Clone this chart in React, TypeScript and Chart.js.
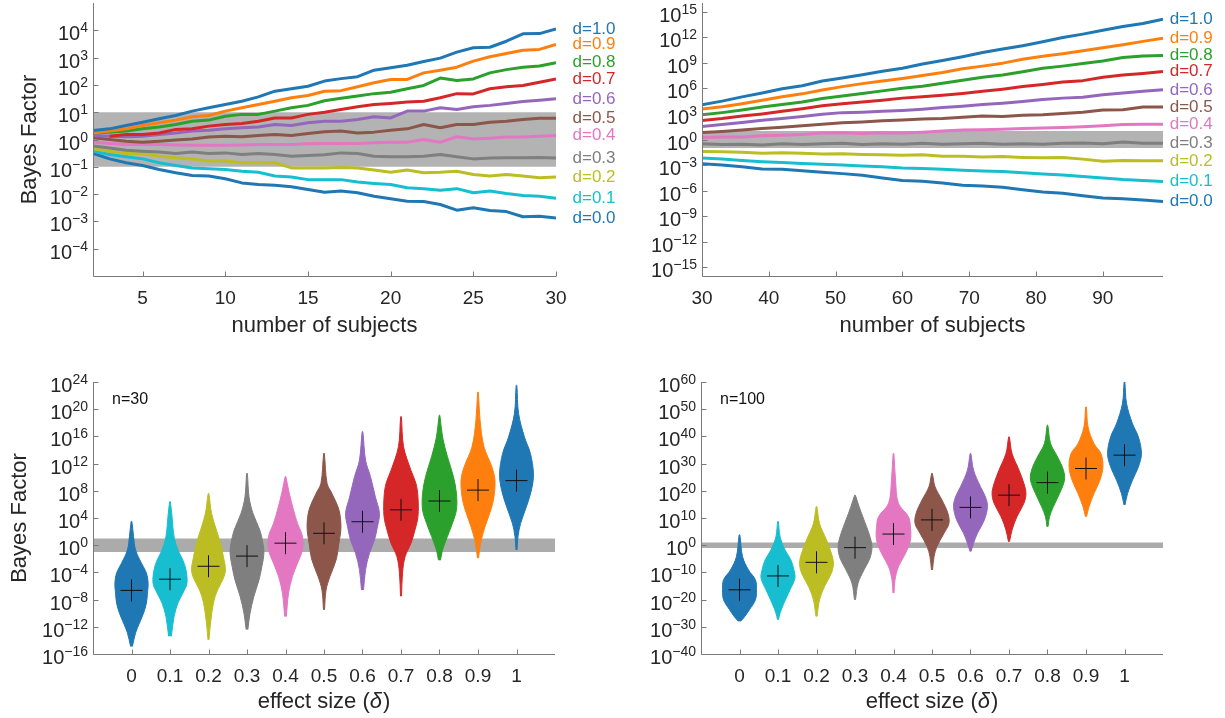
import React, { useEffect, useRef } from "react";
import { Chart, registerables } from "chart.js";

Chart.register(...registerables);

// ---------------- shared data ----------------
const FONT = '"Liberation Sans", Arial, Helvetica, sans-serif';
const TEXT = "#262626";
const AXIS = "#7a7a7a";

const seriesNames = ["d=0.0", "d=0.1", "d=0.2", "d=0.3", "d=0.4", "d=0.5", "d=0.6", "d=0.7", "d=0.8", "d=0.9", "d=1.0"];
const seriesColors = ["#1f77b4", "#17becf", "#bcbd22", "#7f7f7f", "#e377c2", "#8c564b", "#9467bd", "#d62728", "#2ca02c", "#ff7f0e", "#1f77b4"];
const effectSizes = [0, 0.1, 0.2, 0.3, 0.4, 0.5, 0.6, 0.7, 0.8, 0.9, 1];
const effectTickLabels = ["0", "0.1", "0.2", "0.3", "0.4", "0.5", "0.6", "0.7", "0.8", "0.9", "1"];
const bandLow = 0.1;
const bandHigh = 10;

// ---------------- top-left: n = 2..30 (log10 Bayes factor) ----------------
const nSmall = [2, 3, 4, 5, 6, 7, 8, 9, 10, 11, 12, 13, 14, 15, 16, 17, 18, 19, 20, 21, 22, 23, 24, 25, 26, 27, 28, 29, 30];
const small_d00 = [-0.51, -0.71, -0.85, -0.95, -1.1, -1.22, -1.32, -1.34, -1.44, -1.59, -1.65, -1.68, -1.73, -1.83, -1.93, -1.89, -1.95, -2.08, -2.17, -2.26, -2.27, -2.38, -2.59, -2.5, -2.6, -2.64, -2.83, -2.81, -2.88];
const small_d01 = [-0.43, -0.55, -0.63, -0.71, -0.85, -0.95, -1.04, -1.07, -1.1, -1.16, -1.2, -1.34, -1.37, -1.47, -1.47, -1.47, -1.56, -1.61, -1.65, -1.77, -1.8, -1.86, -1.8, -1.95, -1.89, -1.98, -2.05, -2.08, -2.15];
const small_d02 = [-0.34, -0.43, -0.51, -0.51, -0.61, -0.67, -0.71, -0.79, -0.79, -0.85, -0.85, -0.85, -1.04, -1.04, -1.04, -1.03, -1.04, -1.12, -1.2, -1.12, -1.22, -1.2, -1.16, -1.28, -1.34, -1.28, -1.34, -1.4, -1.37];
const small_d03 = [-0.24, -0.31, -0.39, -0.43, -0.46, -0.51, -0.46, -0.51, -0.49, -0.55, -0.51, -0.55, -0.61, -0.59, -0.56, -0.49, -0.51, -0.61, -0.63, -0.63, -0.61, -0.55, -0.63, -0.71, -0.68, -0.67, -0.67, -0.66, -0.68];
const small_d04 = [-0.1, -0.15, -0.18, -0.18, -0.18, -0.2, -0.21, -0.21, -0.21, -0.2, -0.18, -0.18, -0.18, -0.16, -0.15, -0.15, -0.15, -0.12, -0.1, -0.1, 0.0, -0.1, 0.1, 0.02, 0.05, 0.09, 0.09, 0.12, 0.15];
const small_d05 = [0.06, 0.0, -0.06, -0.1, -0.06, -0.02, 0.02, 0.09, 0.12, 0.1, 0.15, 0.18, 0.15, 0.22, 0.28, 0.31, 0.24, 0.27, 0.34, 0.39, 0.55, 0.43, 0.55, 0.55, 0.63, 0.67, 0.73, 0.78, 0.78];
const small_d06 = [0.15, 0.12, 0.1, 0.12, 0.18, 0.24, 0.31, 0.34, 0.39, 0.43, 0.46, 0.55, 0.51, 0.61, 0.67, 0.67, 0.73, 0.83, 0.79, 1.04, 1.04, 1.16, 1.1, 1.2, 1.25, 1.32, 1.39, 1.44, 1.49];
const small_d07 = [null, 0.12, 0.18, 0.18, 0.24, 0.37, 0.39, 0.49, 0.55, 0.59, 0.67, 0.79, 0.79, 0.92, 1.0, 1.1, 1.2, 1.28, 1.32, 1.37, 1.4, 1.53, 1.68, 1.67, 1.86, 1.93, 1.98, 2.1, 2.22];
const small_d08 = [0.24, 0.27, 0.31, 0.39, 0.46, 0.55, 0.67, 0.71, 0.85, 0.92, 0.92, 1.04, 1.16, 1.25, 1.42, 1.51, 1.59, 1.68, 1.73, 1.86, 1.98, 2.25, 2.16, 2.22, 2.44, 2.56, 2.65, 2.69, 2.81];
const small_d09 = [0.24, 0.31, 0.39, 0.51, 0.61, 0.71, 0.83, 0.88, 1.04, 1.16, 1.28, 1.4, 1.53, 1.61, 1.77, 1.79, 1.93, 2.08, 2.2, 2.2, 2.44, 2.54, 2.65, 2.87, 3.03, 3.15, 3.27, 3.3, 3.48];
const small_d10 = [0.33, 0.39, 0.51, 0.63, 0.76, 0.88, 1.04, 1.16, 1.28, 1.4, 1.56, 1.77, 1.86, 1.95, 2.14, 2.23, 2.3, 2.54, 2.63, 2.72, 2.86, 2.98, 3.2, 3.36, 3.38, 3.6, 3.87, 3.88, 4.05];
const smallSeries = [small_d00, small_d01, small_d02, small_d03, small_d04, small_d05, small_d06, small_d07, small_d08, small_d09, small_d10];
const tlYExps = [-4, -3, -2, -1, 0, 1, 2, 3, 4];
const tlXTicks = [5, 10, 15, 20, 25, 30];
const tlXTickLabels = ["5", "10", "15", "20", "25", "30"];

// ---------------- top-right: n = 30..99 (log10 Bayes factor) ----------------
const nLarge = [30, 33, 36, 39, 42, 45, 48, 51, 54, 57, 60, 63, 66, 69, 72, 75, 78, 81, 84, 87, 90, 93, 96, 99];
const large_d00 = [-2.85, -3.0, -3.2, -3.45, -3.5, -3.65, -3.85, -4.0, -4.2, -4.5, -4.8, -4.9, -5.1, -5.35, -5.45, -5.6, -5.9, -6.15, -6.3, -6.6, -6.85, -6.95, -7.1, -7.27];
const large_d01 = [-2.18, -2.3, -2.45, -2.6, -2.7, -2.8, -2.9, -3.0, -3.1, -3.2, -3.35, -3.4, -3.5, -3.6, -3.7, -3.75, -3.9, -4.05, -4.15, -4.35, -4.5, -4.7, -4.8, -4.92];
const large_d02 = [-1.4, -1.45, -1.5, -1.6, -1.55, -1.6, -1.7, -1.68, -1.75, -1.8, -1.85, -1.8, -1.95, -1.95, -2.05, -2.0, -2.1, -2.15, -2.1, -2.3, -2.55, -2.45, -2.5, -2.5];
const large_d03 = [-0.5, -0.6, -0.55, -0.65, -0.5, -0.6, -0.5, -0.45, -0.6, -0.5, -0.55, -0.45, -0.55, -0.5, -0.45, -0.55, -0.5, -0.55, -0.45, -0.4, -0.5, -0.3, -0.45, -0.45];
const large_d04 = [0.23, 0.3, 0.3, 0.45, 0.5, 0.6, 0.75, 0.8, 0.7, 0.8, 0.75, 0.85, 1.0, 1.1, 1.15, 1.2, 1.3, 1.35, 1.4, 1.5, 1.6, 1.75, 1.8, 1.8];
const large_d05 = [0.82, 0.95, 1.1, 1.3, 1.45, 1.6, 1.8, 1.95, 2.05, 2.2, 2.3, 2.4, 2.45, 2.6, 2.75, 2.7, 2.85, 2.9, 3.05, 3.2, 3.45, 3.5, 3.8, 3.8];
const large_d06 = [1.52, 1.75, 2.0, 2.25, 2.45, 2.7, 2.95, 3.15, 3.2, 3.3, 3.4, 3.55, 3.75, 3.9, 4.1, 4.25, 4.45, 4.7, 4.85, 4.95, 5.25, 5.45, 5.65, 5.82];
const large_d07 = [2.23, 2.45, 2.75, 3.0, 3.3, 3.6, 3.95, 4.2, 4.4, 4.6, 4.85, 5.0, 5.2, 5.4, 5.65, 5.9, 6.2, 6.45, 6.75, 6.9, 7.3, 7.55, 7.75, 7.97];
const large_d08 = [2.9, 3.15, 3.45, 3.8, 4.1, 4.4, 4.8, 5.1, 5.4, 5.7, 6.0, 6.25, 6.6, 6.95, 7.3, 7.55, 7.95, 8.35, 8.6, 8.9, 9.2, 9.6, 9.8, 9.84];
const large_d09 = [3.56, 3.85, 4.2, 4.6, 5.0, 5.35, 5.8, 6.2, 6.55, 6.85, 7.15, 7.5, 7.85, 8.3, 8.6, 8.95, 9.4, 9.75, 10.05, 10.4, 10.75, 11.1, 11.5, 11.88];
const large_d10 = [4.07, 4.5, 5.0, 5.45, 5.95, 6.3, 6.85, 7.2, 7.6, 8.0, 8.35, 8.85, 9.25, 9.7, 10.2, 10.6, 11.0, 11.45, 11.95, 12.35, 12.8, 13.25, 13.6, 14.1];
const largeSeries = [large_d00, large_d01, large_d02, large_d03, large_d04, large_d05, large_d06, large_d07, large_d08, large_d09, large_d10];
const trYExps = [-15, -12, -9, -6, -3, 0, 3, 6, 9, 12, 15];
const trXTicks = [30, 40, 50, 60, 70, 80, 90];
const trXTickLabels = ["30", "40", "50", "60", "70", "80", "90"];

// ---------------- bottom-left: violins, n = 30 (log10 levels, relative half-widths) ----------------
const violinLevels30 = [
  [-14.9, -12.9, -11.45, -10, -8.5, -7.05, -5.6, -4.1, -2.65, -0.7, 1.3, 3.5],
  [-13.4, -10.5, -8.5, -7.05, -5.6, -3.6, -2.2, -0.7, 1.25, 4.2, 6.4],
  [-13.9, -11.45, -8.5, -6.6, -4.85, -3.6, -1.7, 0.3, 2.2, 4.7, 7.6],
  [-12.4, -10, -7.5, -5.1, -3.1, -1.2, 0.3, 2.2, 4.7, 7.1, 10.55],
  [-10.5, -7.05, -4.6, -2.65, -0.7, 1.3, 3.2, 5.2, 8.1, 10.1],
  [-9.5, -6.6, -4.6, -2.2, 0.3, 2.7, 5.2, 7.6, 9.1, 13.5],
  [-6.6, -3.6, -1.2, 0.8, 2.7, 4.7, 7.1, 10.1, 12.5, 16.7],
  [-7.5, -4.1, -1.7, 0.3, 2.2, 4.2, 7.1, 9.1, 11.0, 14.5, 18.9],
  [-2.2, -0.7, 1.3, 3.2, 5.2, 7.6, 10.1, 13.0, 15.9, 19.1],
  [-1.9, 0.3, 2.7, 5.2, 7.1, 9.6, 11.5, 14.5, 18.4, 22.5],
  [-0.7, 1.3, 3.2, 5.7, 8.1, 10.5, 13.5, 15.9, 19.4, 23.5],
];
const violinWidths30 = [
  [0.05, 0.24, 0.47, 0.71, 0.88, 0.94, 0.98, 0.88, 0.59, 0.24, 0.12, 0.02],
  [0.08, 0.24, 0.47, 0.76, 1.0, 0.94, 0.76, 0.47, 0.24, 0.12, 0.02],
  [0.03, 0.12, 0.29, 0.53, 0.88, 1.0, 0.88, 0.71, 0.47, 0.18, 0.02],
  [0.05, 0.18, 0.41, 0.71, 0.88, 1.0, 0.94, 0.76, 0.35, 0.12, 0.02],
  [0.05, 0.18, 0.41, 0.71, 1.0, 1.0, 0.71, 0.47, 0.18, 0.02],
  [0.03, 0.12, 0.35, 0.71, 0.88, 1.0, 0.88, 0.47, 0.18, 0.02],
  [0.06, 0.18, 0.41, 0.71, 0.88, 1.0, 0.76, 0.47, 0.18, 0.02],
  [0.03, 0.09, 0.24, 0.59, 0.82, 1.0, 1.0, 0.88, 0.59, 0.15, 0.02],
  [0.06, 0.18, 0.47, 0.76, 1.0, 1.0, 0.82, 0.47, 0.18, 0.02],
  [0.03, 0.15, 0.41, 0.76, 0.94, 1.0, 0.82, 0.35, 0.12, 0.02],
  [0.03, 0.09, 0.24, 0.59, 0.88, 1.0, 0.82, 0.47, 0.12, 0.02],
];
const median30 = [-6.65, -5.0, -3.1, -1.6, 0.3, 1.75, 3.45, 5.2, 6.5, 8.1, 9.5];
const blYExps = [-16, -12, -8, -4, 0, 4, 8, 12, 16, 20, 24];

// ---------------- bottom-right: violins, n = 100 ----------------
const violinLevels100 = [
  [-28, -26.8, -23.7, -20.1, -16.4, -12.7, -9.1, -4.2, 3.8],
  [-27.4, -25, -21.3, -16.4, -12.1, -9.1, -5.4, -1.7, 3.2, 8.7],
  [-26.2, -20.1, -15.2, -10.3, -6.6, -3.0, 1.9, 8.0, 14.2],
  [-20.1, -14, -9.1, -4.8, -0.5, 4.4, 9.3, 14.2, 18.4],
  [-17.6, -12.7, -7.9, -3.0, 1.9, 6.8, 10.5, 15.4, 23.9, 33.7],
  [-9.1, -4.2, -0.5, 4.4, 8.0, 11.7, 16.6, 21.5, 26.4],
  [-2.3, 0.7, 4.4, 9.3, 14.2, 17.8, 21.5, 27.6, 33.7],
  [1.3, 5.6, 10.5, 15.4, 19.0, 22.7, 27.6, 33.7, 39.8],
  [6.8, 10.5, 14.2, 19.0, 23.9, 27.6, 32.5, 37.4, 44.1],
  [10.5, 14.2, 19.0, 23.9, 28.8, 33.7, 37.4, 43.5, 50.8],
  [14.8, 19.0, 23.9, 28.8, 33.7, 39.8, 44.7, 52.1, 60],
];
const violinWidths100 = [
  [0.06, 0.24, 0.59, 0.94, 1.0, 0.94, 0.53, 0.18, 0.02],
  [0.03, 0.12, 0.35, 0.71, 1.0, 0.94, 0.76, 0.41, 0.12, 0.02],
  [0.03, 0.18, 0.47, 0.88, 1.0, 0.88, 0.59, 0.18, 0.02],
  [0.03, 0.18, 0.53, 0.88, 1.0, 0.82, 0.53, 0.24, 0.02],
  [0.03, 0.09, 0.29, 0.71, 1.0, 1.0, 0.88, 0.29, 0.12, 0.02],
  [0.03, 0.12, 0.29, 0.71, 1.0, 0.94, 0.59, 0.18, 0.02],
  [0.03, 0.18, 0.41, 0.82, 1.0, 0.88, 0.59, 0.18, 0.02],
  [0.03, 0.18, 0.47, 0.88, 1.0, 0.88, 0.59, 0.18, 0.02],
  [0.03, 0.12, 0.35, 0.71, 1.0, 0.94, 0.59, 0.18, 0.02],
  [0.03, 0.18, 0.47, 0.82, 1.0, 0.88, 0.47, 0.12, 0.02],
  [0.03, 0.18, 0.47, 0.82, 1.0, 0.82, 0.47, 0.12, 0.02],
];
const median100 = [-16.4, -11.3, -6.3, -0.9, 4.1, 9.3, 13.9, 18.4, 23.0, 28.2, 33.1];
const brYExps = [-40, -30, -20, -10, 0, 10, 20, 30, 40, 50, 60];

// ---------------- drawing helpers ----------------
const VIOLIN_HALF = 0.044; // max half-width in effect-size units

function drawPow(ctx: CanvasRenderingContext2D, exp: number, right: number, y: number) {
  const sup = exp < 0 ? "\u2212" + Math.abs(exp) : String(exp);
  ctx.textAlign = "left";
  ctx.textBaseline = "alphabetic";
  ctx.font = `14px ${FONT}`;
  const sw = ctx.measureText(sup).width;
  ctx.font = `20px ${FONT}`;
  const bw = ctx.measureText("10").width;
  const x0 = right - sw - bw;
  ctx.fillText("10", x0, y + 10);
  ctx.font = `14px ${FONT}`;
  ctx.fillText(sup, x0 + bw, y + 2);
}

type AxOpts = {
  yExps: number[];
  xTicks: number[];
  xTickLabels: string[];
  xTitle: "subjects" | "effect";
  titleOffset: number;
  yTitleX?: number;
  endLabels?: { xs: number[]; series: (number | null)[][] };
  note?: string;
};

function axesPlugin(p: AxOpts) {
  return {
    id: "matlabAxes",
    afterDraw(chart: any) {
      const ctx: CanvasRenderingContext2D = chart.ctx;
      const a = chart.chartArea;
      const xs = chart.scales.x;
      const ys = chart.scales.y;
      ctx.save();
      const L = Math.round(a.left) + 0.5;
      const B = Math.round(a.bottom) + 0.5;
      ctx.strokeStyle = AXIS;
      ctx.lineWidth = 1;
      ctx.beginPath();
      ctx.moveTo(L, a.top);
      ctx.lineTo(L, B);
      ctx.lineTo(a.right, B);
      ctx.stroke();
      ctx.beginPath();
      p.yExps.forEach((e) => {
        const y = Math.round(ys.getPixelForValue(Math.pow(10, e))) + 0.5;
        ctx.moveTo(L, y);
        ctx.lineTo(L + 5, y);
      });
      p.xTicks.forEach((t) => {
        const x = Math.round(xs.getPixelForValue(t)) + 0.5;
        ctx.moveTo(x, B);
        ctx.lineTo(x, B - 5);
      });
      ctx.stroke();

      ctx.fillStyle = TEXT;
      p.yExps.forEach((e) => drawPow(ctx, e, a.left - 5, ys.getPixelForValue(Math.pow(10, e))));

      ctx.font = `19px ${FONT}`;
      ctx.textAlign = "center";
      ctx.textBaseline = "alphabetic";
      p.xTicks.forEach((t, i) => ctx.fillText(p.xTickLabels[i], xs.getPixelForValue(t), a.bottom + 28));

      const cx = (a.left + a.right) / 2;
      const by = a.bottom + p.titleOffset;
      ctx.font = `22px ${FONT}`;
      if (p.xTitle === "subjects") {
        ctx.textAlign = "center";
        ctx.fillText("number of subjects", cx, by);
      } else {
        const p1 = "effect size (";
        const p3 = ")";
        ctx.font = `22px ${FONT}`;
        const w1 = ctx.measureText(p1).width;
        const w3 = ctx.measureText(p3).width;
        ctx.font = `italic 22px ${FONT}`;
        const w2 = ctx.measureText("\u03b4").width + 1;
        let x = cx - (w1 + w2 + w3) / 2;
        ctx.textAlign = "left";
        ctx.font = `22px ${FONT}`;
        ctx.fillText(p1, x, by);
        x += w1;
        ctx.font = `italic 22px ${FONT}`;
        ctx.fillText("\u03b4", x, by);
        x += w2;
        ctx.font = `22px ${FONT}`;
        ctx.fillText(p3, x, by);
      }

      if (p.yTitleX != null) {
        ctx.save();
        ctx.translate(p.yTitleX, (a.top + a.bottom) / 2);
        ctx.rotate(-Math.PI / 2);
        ctx.font = `22px ${FONT}`;
        ctx.textAlign = "center";
        ctx.textBaseline = "alphabetic";
        ctx.fillStyle = TEXT;
        ctx.fillText("Bayes Factor", 0, 0);
        ctx.restore();
      }

      if (p.endLabels) {
        const { xs: nx, series } = p.endLabels;
        const lastN = nx[nx.length - 1];
        ctx.font = `17px ${FONT}`;
        ctx.textAlign = "left";
        ctx.textBaseline = "middle";
        series.forEach((s, i) => {
          const v = s[s.length - 1] as number;
          ctx.fillStyle = seriesColors[i];
          ctx.fillText(seriesNames[i], xs.getPixelForValue(lastN + 1), ys.getPixelForValue(Math.pow(10, v)));
        });
      }

      if (p.note) {
        ctx.fillStyle = "#111";
        ctx.font = `16px ${FONT}`;
        ctx.textAlign = "left";
        ctx.textBaseline = "middle";
        ctx.fillText(p.note, a.left + 19, a.top + 18);
      }
      ctx.restore();
    },
  };
}

type Pad = { left: number; right: number; top: number; bottom: number };

function baseOptions(pad: Pad, xMin: number, xMax: number, yMinExp: number, yMaxExp: number) {
  return {
    responsive: false,
    animation: false as const,
    devicePixelRatio: 1,
    events: [] as any[],
    layout: { padding: pad },
    plugins: { legend: { display: false }, tooltip: { enabled: false } },
    elements: { point: { radius: 0 } },
    scales: {
      x: { type: "linear" as const, min: xMin, max: xMax, display: false },
      y: { type: "logarithmic" as const, min: Math.pow(10, yMinExp), max: Math.pow(10, yMaxExp), display: false },
    },
  };
}

function bandDataset(xMin: number, xMax: number, color: string) {
  return {
    data: [
      { x: xMin, y: bandLow },
      { x: xMax, y: bandLow },
      { x: xMax, y: bandHigh },
      { x: xMin, y: bandHigh },
    ],
    fill: "shape",
    backgroundColor: color,
    borderColor: "rgba(0,0,0,0)",
    borderWidth: 1,
    pointRadius: 0,
    tension: 0,
    order: 100,
  };
}

function lineConfig(
  nx: number[],
  series: (number | null)[][],
  xMin: number,
  xMax: number,
  yMinExp: number,
  yMaxExp: number,
  pad: Pad,
  ax: AxOpts
): any {
  const datasets: any[] = [bandDataset(xMin, xMax, "#b3b3b3")];
  series.forEach((vals, i) => {
    datasets.push({
      label: seriesNames[i],
      data: nx.map((n, k) => ({ x: n, y: vals[k] === null ? null : Math.pow(10, vals[k] as number) })),
      borderColor: seriesColors[i],
      backgroundColor: seriesColors[i],
      borderWidth: 3,
      borderJoinStyle: "round",
      pointRadius: 0,
      tension: 0,
      fill: false,
      order: 20 - i,
    });
  });
  return {
    type: "line",
    data: { datasets },
    options: baseOptions(pad, xMin, xMax, yMinExp, yMaxExp),
    plugins: [axesPlugin(ax)],
  };
}

function violinConfig(
  levels: number[][],
  widths: number[][],
  medians: number[],
  yMinExp: number,
  yMaxExp: number,
  pad: Pad,
  ax: AxOpts
): any {
  const datasets: any[] = [bandDataset(-0.1, 1.1, "#ababab")];
  levels.forEach((lv, i) => {
    const c = effectSizes[i];
    const w = widths[i];
    const right = lv.map((l, k) => ({ x: c + w[k] * VIOLIN_HALF, y: Math.pow(10, l) }));
    const left = lv.map((l, k) => ({ x: c - w[k] * VIOLIN_HALF, y: Math.pow(10, l) })).reverse();
    datasets.push({
      label: seriesNames[i],
      data: [...right, ...left],
      fill: "shape",
      backgroundColor: seriesColors[i],
      borderColor: seriesColors[i],
      borderWidth: 1,
      pointRadius: 0,
      tension: 0.35,
      order: 50,
    });
  });
  datasets.push({
    label: "median",
    data: medians.map((m, i) => ({ x: effectSizes[i], y: Math.pow(10, m) })),
    showLine: false,
    pointStyle: "cross",
    pointRadius: 11,
    pointBorderColor: "#111111",
    pointBackgroundColor: "#111111",
    pointBorderWidth: 1,
    order: 0,
  });
  return {
    type: "line",
    data: { datasets },
    options: baseOptions(pad, -0.1, 1.1, yMinExp, yMaxExp),
    plugins: [axesPlugin(ax)],
  };
}

export default function App() {
  const tl = useRef<HTMLCanvasElement>(null);
  const tr = useRef<HTMLCanvasElement>(null);
  const bl = useRef<HTMLCanvasElement>(null);
  const br = useRef<HTMLCanvasElement>(null);

  useEffect(() => {
    const charts: Chart[] = [];
    charts.push(
      new Chart(
        tl.current!,
        lineConfig(nSmall, smallSeries, 2, 30, -5, 5, { left: 93, right: 74, top: 3, bottom: 79 }, {
          yExps: tlYExps,
          xTicks: tlXTicks,
          xTickLabels: tlXTickLabels,
          xTitle: "subjects",
          titleOffset: 56,
          yTitleX: 36,
          endLabels: { xs: nSmall, series: smallSeries },
        })
      )
    );
    charts.push(
      new Chart(
        tr.current!,
        lineConfig(nLarge, largeSeries, 30, 99, -16, 16, { left: 72, right: 62, top: 3, bottom: 79 }, {
          yExps: trYExps,
          xTicks: trXTicks,
          xTickLabels: trXTickLabels,
          xTitle: "subjects",
          titleOffset: 56,
          endLabels: { xs: nLarge, series: largeSeries },
        })
      )
    );
    charts.push(
      new Chart(
        bl.current!,
        violinConfig(violinLevels30, violinWidths30, median30, -16, 24, { left: 93, right: 57, top: 27, bottom: 64 }, {
          yExps: blYExps,
          xTicks: effectSizes,
          xTickLabels: effectTickLabels,
          xTitle: "effect",
          titleOffset: 54,
          yTitleX: 26,
          note: "n=30",
        })
      )
    );
    charts.push(
      new Chart(
        br.current!,
        violinConfig(violinLevels100, violinWidths100, median100, -40, 60, { left: 89, right: 62, top: 27, bottom: 64 }, {
          yExps: brYExps,
          xTicks: effectSizes,
          xTickLabels: effectTickLabels,
          xTitle: "effect",
          titleOffset: 54,
          note: "n=100",
        })
      )
    );
    return () => charts.forEach((c) => c.destroy());
  }, []);

  return (
    <div style={{ position: "absolute", left: 0, top: 0, width: 1225, height: 718, background: "#ffffff" }}>
      <canvas ref={tl} width={630} height={355} style={{ position: "absolute", left: 0, top: 0 }} />
      <canvas ref={tr} width={595} height={355} style={{ position: "absolute", left: 630, top: 0 }} />
      <canvas ref={bl} width={612} height={363} style={{ position: "absolute", left: 0, top: 355 }} />
      <canvas ref={br} width={613} height={363} style={{ position: "absolute", left: 612, top: 355 }} />
    </div>
  );
}
